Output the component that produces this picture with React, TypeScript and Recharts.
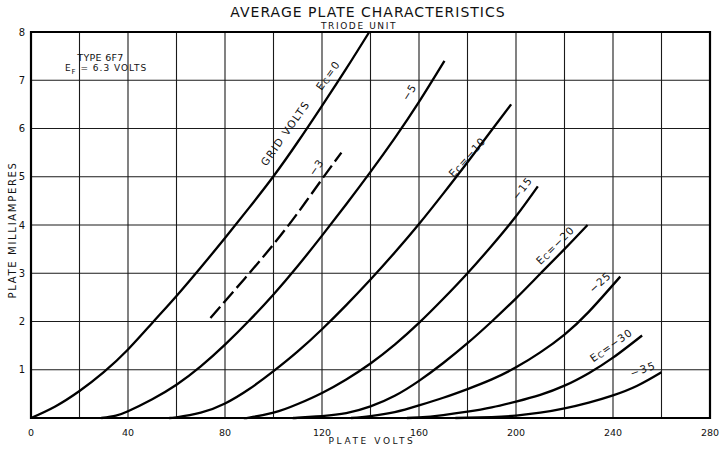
import React from "react";
import { LineChart, Line, XAxis, YAxis, CartesianGrid, ReferenceArea } from "recharts";

// Plate volts (x) and plate milliamperes (y), one pair of arrays per grid voltage
const ec0Volts = [0, 10, 20, 30, 40, 50, 60, 70, 80, 90, 100, 110, 120, 130, 139.5];
const ec0Amps = [0, 0.24, 0.56, 0.95, 1.42, 1.97, 2.53, 3.12, 3.73, 4.36, 5.01, 5.72, 6.47, 7.24, 8];

const ec3Volts = [74, 80, 90, 100, 110, 120, 128];
const ec3Amps = [2.07, 2.42, 3.0, 3.6, 4.25, 4.95, 5.5];

const ec5Volts = [29, 35, 40, 50, 60, 70, 80, 90, 100, 110, 120, 130, 140, 150, 160, 170.5];
const ec5Amps = [0, 0.05, 0.14, 0.39, 0.69, 1.07, 1.52, 2.02, 2.56, 3.15, 3.78, 4.43, 5.1, 5.8, 6.55, 7.4];

const ec10Volts = [57, 60, 70, 80, 90, 100, 110, 120, 130, 140, 150, 160, 170, 180, 190, 198];
const ec10Amps = [0, 0.015, 0.11, 0.3, 0.6, 0.97, 1.38, 1.84, 2.34, 2.87, 3.43, 4.02, 4.65, 5.3, 5.97, 6.5];

const ec15Volts = [88, 90, 100, 110, 120, 130, 140, 150, 160, 170, 180, 190, 200, 209];
const ec15Amps = [0, 0.01, 0.11, 0.29, 0.52, 0.8, 1.13, 1.52, 1.97, 2.47, 3.0, 3.57, 4.18, 4.8];

const ec20Volts = [108, 110, 120, 130, 140, 150, 160, 170, 180, 190, 200, 210, 220, 229.5];
const ec20Amps = [0, 0.005, 0.04, 0.1, 0.24, 0.46, 0.77, 1.14, 1.55, 2.0, 2.48, 2.99, 3.5, 4.0];

const ec25Volts = [132, 140, 150, 160, 170, 180, 190, 200, 210, 220, 230, 243];
const ec25Amps = [0, 0.04, 0.12, 0.26, 0.42, 0.6, 0.8, 1.05, 1.36, 1.73, 2.2, 2.93];

const ec30Volts = [155, 160, 170, 180, 190, 200, 210, 220, 230, 240, 252];
const ec30Amps = [0, 0.01, 0.06, 0.13, 0.22, 0.34, 0.48, 0.67, 0.93, 1.25, 1.71];

const ec35Volts = [175, 190, 200, 210, 220, 230, 240, 250, 260];
const ec35Amps = [0, 0.02, 0.05, 0.11, 0.2, 0.32, 0.47, 0.67, 0.95];

const xTicks = [0, 20, 40, 60, 80, 100, 120, 140, 160, 180, 200, 220, 240, 260, 280];
const yTicks = [0, 1, 2, 3, 4, 5, 6, 7, 8];

const zip = (v: number[], i: number[]) => v.map((x, k) => ({ v: x, i: i[k] }));

const curves = [
  { key: "ec0", data: zip(ec0Volts, ec0Amps), dash: undefined },
  { key: "ec3", data: zip(ec3Volts, ec3Amps), dash: "15 5" },
  { key: "ec5", data: zip(ec5Volts, ec5Amps), dash: undefined },
  { key: "ec10", data: zip(ec10Volts, ec10Amps), dash: undefined },
  { key: "ec15", data: zip(ec15Volts, ec15Amps), dash: undefined },
  { key: "ec20", data: zip(ec20Volts, ec20Amps), dash: undefined },
  { key: "ec25", data: zip(ec25Volts, ec25Amps), dash: undefined },
  { key: "ec30", data: zip(ec30Volts, ec30Amps), dash: undefined },
  { key: "ec35", data: zip(ec35Volts, ec35Amps), dash: undefined },
];

const FONT = "'DejaVu Sans', sans-serif";
const INK = "#111";

const XTick = (props: any) => {
  const { x, y, payload } = props;
  if (payload.value % 40 !== 0) return <g />;
  return (
    <text x={x} y={y + 16} textAnchor="middle" fontSize={9.5} fontFamily={FONT} fill={INK}>
      {payload.value}
    </text>
  );
};

const YTick = (props: any) => {
  const { x, y, payload } = props;
  if (payload.value === 0) return <g />;
  return (
    <text x={x - 4} y={y} dy="0.35em" textAnchor="end" fontSize={10} fontFamily={FONT} fill={INK}>
      {payload.value}
    </text>
  );
};

const Ec = ({ rest }: { rest: string }) => (
  <>
    <tspan>E</tspan>
    <tspan fontSize={8} dy={2}>C</tspan>
    <tspan dy={-2}>{rest}</tspan>
  </>
);

const CurveLabel = ({ cx, cy, angle, children, spacing = 1 }: any) => (
  <text
    x={cx}
    y={cy}
    textAnchor="middle"
    dominantBaseline="central"
    transform={`rotate(${angle} ${cx} ${cy})`}
    fontSize={10.5}
    fontFamily={FONT}
    letterSpacing={spacing}
    fill={INK}
  >
    {children}
  </text>
);

export default function App() {
  return (
    <div style={{ position: "relative", width: 723, height: 450, background: "#fff" }}>
      <style>{"html,body{margin:0;padding:0;overflow:hidden}"}</style>
      <LineChart width={723} height={450} margin={{ top: 32, right: 13, bottom: 0, left: 11 }}>
        <CartesianGrid stroke="#1a1a1a" strokeWidth={1.1} />
        <XAxis
          type="number"
          dataKey="v"
          domain={[0, 280]}
          ticks={xTicks}
          interval={0}
          height={32}
          tickLine={false}
          axisLine={false}
          tickSize={0}
          tick={<XTick />}
          allowDuplicatedCategory={false}
        />
        <YAxis
          type="number"
          dataKey="i"
          domain={[0, 8]}
          ticks={yTicks}
          interval={0}
          width={20}
          tickLine={false}
          axisLine={false}
          tickSize={0}
          tick={<YTick />}
        />
        <ReferenceArea x1={0} x2={280} y1={0} y2={8} fill="none" stroke="#000" strokeWidth={2.2} />
        {curves.map((c) => (
          <Line
            key={c.key}
            data={c.data}
            dataKey="i"
            type="natural"
            stroke="#000"
            strokeWidth={2.3}
            strokeDasharray={c.dash}
            dot={false}
            activeDot={false}
            isAnimationActive={false}
          />
        ))}
      </LineChart>
      <svg
        width={723}
        height={450}
        style={{ position: "absolute", left: 0, top: 0, pointerEvents: "none" }}
      >
        <text x={368} y={16.5} textAnchor="middle" fontSize={14} letterSpacing={1} fontFamily={FONT} fill={INK}>
          AVERAGE PLATE CHARACTERISTICS
        </text>
        <text x={359} y={28.5} textAnchor="middle" fontSize={9} letterSpacing={1.6} fontFamily={FONT} fill={INK}>
          TRIODE UNIT
        </text>
        <text x={372} y={444} textAnchor="middle" fontSize={9} letterSpacing={2.6} fontFamily={FONT} fill={INK}>
          PLATE VOLTS
        </text>
        <text
          x={16}
          y={230}
          textAnchor="middle"
          transform="rotate(-90 16 230)"
          fontSize={10}
          letterSpacing={1.7}
          fontFamily={FONT}
          fill={INK}
        >
          PLATE MILLIAMPERES
        </text>
        <text x={100.5} y={61} textAnchor="middle" fontSize={9.5} letterSpacing={0.3} fontFamily={FONT} fill={INK}>
          TYPE 6F7
        </text>
        <text x={106} y={71} textAnchor="middle" fontSize={9} letterSpacing={1} fontFamily={FONT} fill={INK}>
          <tspan>E</tspan>
          <tspan fontSize={7} dy={2.5}>F</tspan>
          <tspan dy={-2.5}> = 6.3 VOLTS</tspan>
        </text>

        <CurveLabel cx={285} cy={133} angle={-55} spacing={1.4}>GRID VOLTS</CurveLabel>
        <CurveLabel cx={328} cy={75} angle={-55} spacing={1.5}><Ec rest="=0" /></CurveLabel>
        <CurveLabel cx={316} cy={167} angle={-55}>−3</CurveLabel>
        <CurveLabel cx={409} cy={92} angle={-58}>−5</CurveLabel>
        <CurveLabel cx={467} cy={157} angle={-48}><Ec rest="=−10" /></CurveLabel>
        <CurveLabel cx={522} cy={188} angle={-52}>−15</CurveLabel>
        <CurveLabel cx={555} cy={245} angle={-45}><Ec rest="=−20" /></CurveLabel>
        <CurveLabel cx={600} cy={282} angle={-42}>−25</CurveLabel>
        <CurveLabel cx={611} cy={345} angle={-35}><Ec rest="=−30" /></CurveLabel>
        <CurveLabel cx={643} cy={369} angle={-20} spacing={1.5}>−35</CurveLabel>
      </svg>
    </div>
  );
}
